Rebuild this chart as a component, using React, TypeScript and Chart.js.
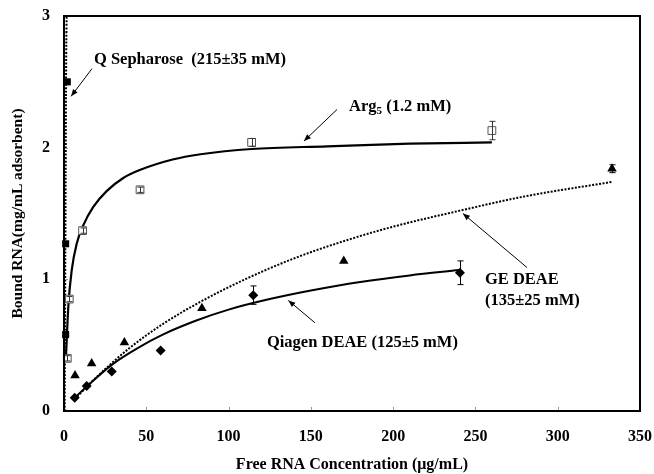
import React, { useEffect, useRef } from "react";
import { Chart, registerables } from "chart.js";

Chart.register(...registerables);

const FONT = '"Liberation Serif", "Times New Roman", Times, serif';

// ---------- data ----------
const X_MIN = 0;
const X_MAX = 350;
const X_STEP = 50;
const Y_MIN = 0;
const Y_MAX = 3;
const Y_STEP = 1;

// Q Sepharose (filled squares) + fitted dotted curve
const Q_X = [2.0, 1.0, 1.0];
const Q_Y = [2.5, 1.27, 0.58];
const Q_FIT_X = [0.4, 0.6, 0.8, 1.0, 1.2, 1.4, 1.6];
const Q_FIT_Y = [0.0, 0.6, 1.2, 1.8, 2.4, 2.8, 3.0];

// Arg5 (open squares) + fitted solid curve
const ARG_X = [2.0, 3.2, 11.3, 46.2, 114, 260];
const ARG_Y = [0.4, 0.85, 1.37, 1.68, 2.04, 2.13];
const ARG_ERR = [0.02, 0.02, 0.02, 0.02, 0.03, 0.07];
const ARG_FIT_X = [1.2, 2.6, 4.7, 7.7, 11.7, 17.8, 25.9, 36, 46, 66, 83, 114, 160, 210, 260];
const ARG_FIT_Y = [0.41, 0.79, 1.07, 1.27, 1.41, 1.55, 1.67, 1.77, 1.83, 1.91, 1.95, 1.99, 2.01, 2.03, 2.04];

// GE DEAE (filled triangles) + fitted dotted curve
const GE_X = [6.7, 16.8, 36.7, 83.8, 170, 333];
const GE_Y = [0.27, 0.36, 0.52, 0.78, 1.14, 1.84];
const GE_ERR = [0, 0, 0, 0, 0, 0.03];
const GE_FIT_X = [6.5, 20, 40, 60, 83, 110, 140, 170, 200, 240, 280, 333];
const GE_FIT_Y = [0.09, 0.26, 0.48, 0.66, 0.83, 1.0, 1.16, 1.29, 1.4, 1.52, 1.63, 1.74];

// Qiagen DEAE (filled diamonds) + fitted solid curve
const QIA_X = [6.5, 13.8, 29, 58.7, 115, 240.6];
const QIA_Y = [0.1, 0.19, 0.3, 0.46, 0.88, 1.05];
const QIA_ERR = [0, 0, 0, 0, 0.07, 0.09];
const QIA_FIT_X = [6.5, 15, 30, 45, 60, 80, 100, 125, 150, 180, 210, 240];
const QIA_FIT_Y = [0.1, 0.2, 0.36, 0.48, 0.58, 0.685, 0.77, 0.85, 0.915, 0.98, 1.03, 1.07];

const X_TITLE = "Free RNA Concentration (\u03bcg/mL)";
const Y_TITLE = "Bound RNA(mg/mL adsorbent)";

const LABEL_Q = "Q Sepharose  (215\u00b135 mM)";
const LABEL_ARG_MAIN = "Arg";
const LABEL_ARG_SUB = "5";
const LABEL_ARG_REST = " (1.2 mM)";
const LABEL_GE_1 = "GE DEAE";
const LABEL_GE_2 = "(135\u00b125 mM)";
const LABEL_QIA = "Qiagen DEAE (125\u00b15 mM)";

const pts = (xs: number[], ys: number[]) => xs.map((x, i) => ({ x, y: ys[i] }));

// annotation placement in data units (label left/middle, arrow start -> tip)
const ANNOTATIONS = [
  { text: LABEL_Q, at: [18.2, 2.67], arrow: [17, 2.6, 4.3, 2.39] },
  { text: "ARG", at: [173.2, 2.31], arrow: [165.9, 2.29, 145.8, 2.05] },
  { text: LABEL_GE_1, at: [255.8, 1.0], arrow: [281.3, 1.09, 242.4, 1.5] },
  { text: LABEL_GE_2, at: [255.8, 0.84], arrow: null },
  { text: LABEL_QIA, at: [123.3, 0.52], arrow: [152.5, 0.67, 136.3, 0.84] },
];

const ERRORS: Record<string, number[]> = {
  arg: ARG_ERR,
  ge: GE_ERR,
  qia: QIA_ERR,
};

function drawArrow(ctx: CanvasRenderingContext2D, x1: number, y1: number, x2: number, y2: number) {
  ctx.beginPath();
  ctx.moveTo(x1, y1);
  ctx.lineTo(x2, y2);
  ctx.lineWidth = 1;
  ctx.strokeStyle = "#000";
  ctx.stroke();
  const ang = Math.atan2(y2 - y1, x2 - x1);
  const len = 7;
  const hw = 2.8;
  const bx = x2 - len * Math.cos(ang);
  const by = y2 - len * Math.sin(ang);
  ctx.beginPath();
  ctx.moveTo(x2, y2);
  ctx.lineTo(bx + hw * Math.sin(ang), by - hw * Math.cos(ang));
  ctx.lineTo(bx - hw * Math.sin(ang), by + hw * Math.cos(ang));
  ctx.closePath();
  ctx.fillStyle = "#000";
  ctx.fill();
}

const decorPlugin = {
  id: "decor",
  afterDatasetsDraw(chart: any) {
    const { ctx, scales } = chart;
    const xs = scales.x;
    const ys = scales.y;
    ctx.save();
    chart.data.datasets.forEach((ds: any) => {
      const errs = ERRORS[ds.errKey];
      if (!errs) return;
      ds.data.forEach((p: any, i: number) => {
        const e = errs[i];
        if (!e) return;
        const px = Math.round(xs.getPixelForValue(p.x)) + 0.5;
        const top = ys.getPixelForValue(p.y + e);
        const bot = ys.getPixelForValue(p.y - e);
        ctx.beginPath();
        ctx.strokeStyle = ds.errColor || "#000";
        ctx.lineWidth = 1;
        ctx.moveTo(px, top);
        ctx.lineTo(px, bot);
        ctx.moveTo(px - 3, top);
        ctx.lineTo(px + 3, top);
        ctx.moveTo(px - 3, bot);
        ctx.lineTo(px + 3, bot);
        ctx.stroke();
      });
    });
    ctx.restore();
  },
  afterDraw(chart: any) {
    const { ctx, chartArea: a, scales } = chart;
    const xs = scales.x;
    const ys = scales.y;
    ctx.save();
    ctx.strokeStyle = "#999";
    ctx.lineWidth = 1;
    for (let v = X_MIN + X_STEP; v < X_MAX; v += X_STEP) {
      const px = Math.round(xs.getPixelForValue(v)) + 0.5;
      ctx.beginPath();
      ctx.moveTo(px, a.bottom);
      ctx.lineTo(px, a.bottom - 4);
      ctx.stroke();
    }
    for (let v = Y_MIN + Y_STEP; v < Y_MAX; v += Y_STEP) {
      const py = Math.round(ys.getPixelForValue(v)) + 0.5;
      ctx.beginPath();
      ctx.moveTo(a.left, py);
      ctx.lineTo(a.left + 4, py);
      ctx.stroke();
    }
    ctx.strokeStyle = "#000";
    ctx.lineWidth = 2;
    ctx.strokeRect(a.left, a.top, a.right - a.left, a.bottom - a.top);

    ctx.fillStyle = "#000";
    ctx.textBaseline = "middle";
    ctx.textAlign = "left";
    const big = `bold 16.5px ${FONT}`;
    ANNOTATIONS.forEach((an) => {
      const tx = xs.getPixelForValue(an.at[0]);
      const ty = ys.getPixelForValue(an.at[1]);
      ctx.font = big;
      if (an.text === "ARG") {
        ctx.fillText(LABEL_ARG_MAIN, tx, ty);
        let w = ctx.measureText(LABEL_ARG_MAIN).width;
        ctx.font = `bold 11px ${FONT}`;
        ctx.fillText(LABEL_ARG_SUB, tx + w, ty + 4);
        w += ctx.measureText(LABEL_ARG_SUB).width;
        ctx.font = big;
        ctx.fillText(LABEL_ARG_REST, tx + w, ty);
      } else {
        ctx.fillText(an.text, tx, ty);
      }
      if (an.arrow) {
        drawArrow(
          ctx,
          xs.getPixelForValue(an.arrow[0]),
          ys.getPixelForValue(an.arrow[1]),
          xs.getPixelForValue(an.arrow[2]),
          ys.getPixelForValue(an.arrow[3])
        );
      }
    });
    ctx.restore();
  },
};

export default function App() {
  const ref = useRef<HTMLCanvasElement | null>(null);

  useEffect(() => {
    document.body.style.margin = "0";
    const canvas = ref.current;
    if (!canvas) return;
    const chart = new Chart(canvas, {
      type: "scatter",
      data: {
        datasets: [
          {
            label: "Q fit",
            data: pts(Q_FIT_X, Q_FIT_Y),
            showLine: true,
            borderColor: "#000",
            borderWidth: 2,
            borderDash: [2, 1.5],
            pointRadius: 0,
            tension: 0.3,
            order: 2,
          },
          {
            label: "Arg fit",
            data: pts(ARG_FIT_X, ARG_FIT_Y),
            showLine: true,
            borderColor: "#000",
            borderWidth: 2.2,
            pointRadius: 0,
            cubicInterpolationMode: "monotone",
            order: 2,
          },
          {
            label: "GE fit",
            data: pts(GE_FIT_X, GE_FIT_Y),
            showLine: true,
            borderColor: "#000",
            borderWidth: 2,
            borderDash: [2, 1.5],
            pointRadius: 0,
            cubicInterpolationMode: "monotone",
            order: 2,
          },
          {
            label: "Qiagen fit",
            data: pts(QIA_FIT_X, QIA_FIT_Y),
            showLine: true,
            borderColor: "#000",
            borderWidth: 2,
            pointRadius: 0,
            cubicInterpolationMode: "monotone",
            order: 2,
          },
          {
            label: "Q Sepharose",
            data: pts(Q_X, Q_Y),
            pointStyle: "rect",
            pointRadius: 5,
            backgroundColor: "#000",
            borderColor: "#000",
            borderWidth: 0,
            clip: false,
            order: 1,
          } as any,
          {
            label: "Arg5",
            data: pts(ARG_X, ARG_Y),
            pointStyle: "rect",
            pointRadius: 5.5,
            backgroundColor: "#fff",
            borderColor: "#555",
            borderWidth: 1,
            clip: false,
            order: 1,
            errKey: "arg",
            errColor: "#333",
          } as any,
          {
            label: "GE DEAE",
            data: pts(GE_X, GE_Y),
            pointStyle: "triangle",
            pointRadius: 5.5,
            backgroundColor: "#000",
            borderColor: "#000",
            borderWidth: 0,
            clip: false,
            order: 1,
            errKey: "ge",
          } as any,
          {
            label: "Qiagen DEAE",
            data: pts(QIA_X, QIA_Y),
            pointStyle: "rectRot",
            pointRadius: 5,
            backgroundColor: "#000",
            borderColor: "#000",
            borderWidth: 0,
            clip: false,
            order: 1,
            errKey: "qia",
          } as any,
        ],
      },
      options: {
        responsive: false,
        animation: false,
        events: [],
        layout: { padding: { left: 0, right: 0, top: 16, bottom: 0 } },
        plugins: {
          legend: { display: false },
          tooltip: { enabled: false },
        },
        scales: {
          x: {
            type: "linear",
            min: X_MIN,
            max: X_MAX,
            border: { display: false },
            grid: { display: false, drawTicks: false },
            ticks: {
              stepSize: X_STEP,
              color: "#000",
              padding: 16,
              font: { family: FONT, size: 16, weight: "bold" },
            },
            title: {
              display: true,
              text: X_TITLE,
              color: "#000",
              padding: { top: 0, bottom: 0 },
              font: { family: FONT, size: 16, weight: "bold" },
            },
            afterFit: (s: any) => {
              s.height = 63;
              s.paddingLeft = 0;
              s.paddingRight = 14;
            },
          },
          y: {
            type: "linear",
            min: Y_MIN,
            max: Y_MAX,
            border: { display: false },
            grid: { display: false, drawTicks: false },
            ticks: {
              stepSize: Y_STEP,
              color: "#000",
              padding: 14,
              font: { family: FONT, size: 16, weight: "bold" },
            },
            title: {
              display: true,
              text: Y_TITLE,
              color: "#000",
              padding: { top: 9, bottom: 0 },
              font: { family: FONT, size: 15.5, weight: "bold" },
            },
            afterFit: (s: any) => {
              s.width = 64;
              s.paddingTop = 0;
              s.paddingBottom = 0;
            },
          },
        },
      },
      plugins: [decorPlugin],
    });
    return () => chart.destroy();
  }, []);

  return (
    <div style={{ position: "fixed", left: 0, top: 0, width: 654, height: 474, background: "#fff" }}>
      <canvas ref={ref} width={654} height={474} style={{ width: 654, height: 474, display: "block" }} />
    </div>
  );
}
